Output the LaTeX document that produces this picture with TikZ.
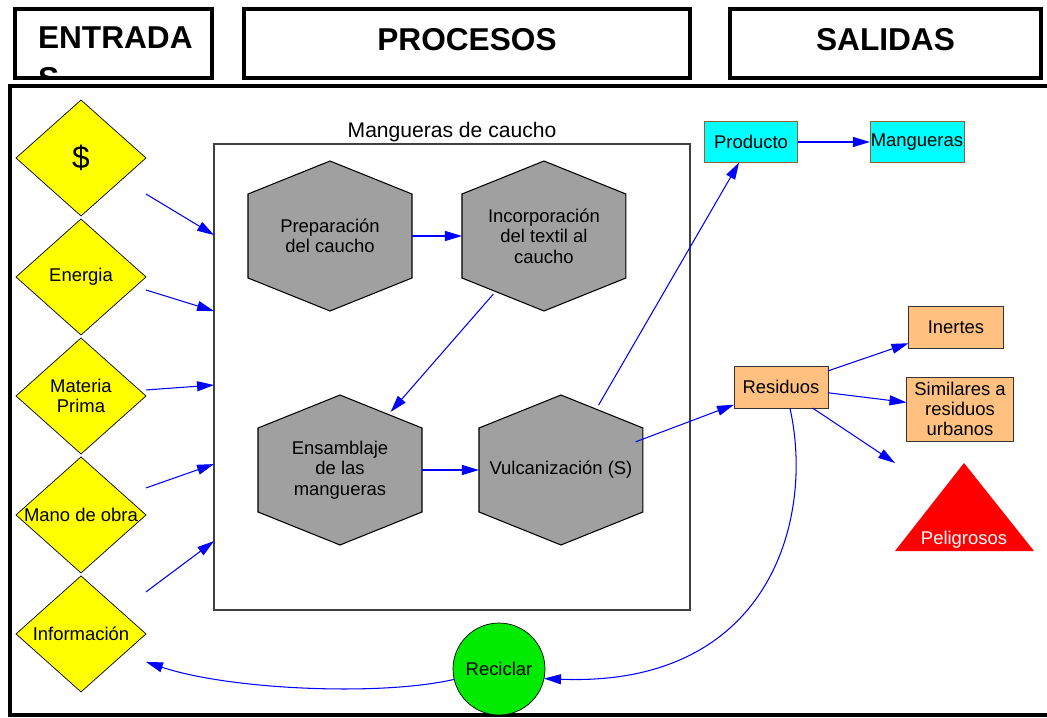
\documentclass[tikz,border=0pt]{standalone}
\usepackage{fontspec}
\setmainfont{Liberation Sans}
\usetikzlibrary{arrows.meta,shapes.geometric,calc,backgrounds}
\definecolor{amarillo}{RGB}{255,255,0}
\definecolor{gris}{RGB}{160,160,160}
\definecolor{celeste}{RGB}{0,255,255}
\definecolor{durazno}{RGB}{255,192,128}
\definecolor{verde}{RGB}{0,235,0}
\definecolor{cafe}{RGB}{150,95,45}
\definecolor{azul}{RGB}{0,0,255}

\begin{document}
\begin{tikzpicture}[x=0.02cm, y=-0.02cm, >={Triangle[length=0.34cm,width=0.2cm]}, node distance=2.38cm,
    every node/.style={font=\fontsize{10.5}{11.6}\selectfont, outer sep=0pt},
    cabecera/.style={draw, line width=0.08cm, minimum height=1.38cm, inner sep=0pt, text depth=0.16cm, font=\fontsize{18}{20.4}\selectfont\bfseries},
    rombo/.style={diamond, draw, fill=amarillo, shape aspect=1.12, inner sep=0pt, minimum width=2.6cm, minimum height=2.32cm, align=center},
    hexagono/.style={minimum width=3.28cm, minimum height=3cm, align=center},
    hexfondo/.style={fill=gris, draw=black, line width=0.6pt},
    salida/.style={draw=black!80, fill=durazno, minimum height=0.84cm, inner xsep=1pt, inner ysep=1pt, align=center},
    producto/.style={draw=cafe, fill=celeste, minimum width=1.86cm, minimum height=0.82cm, inner xsep=0.5pt},
    flecha/.style={->, color=azul, line width=0.6pt}]
    \useasboundingbox (0,0) rectangle (1047,717);
    \draw[line width=0.08cm] (10,85.5) rectangle (1070,715);

    \node[cabecera, minimum width=3.94cm] (ent) at (113.5,43.5) {};
    \begin{scope}
        \clip (ent.north west) rectangle (ent.south east);
        \node[anchor=north west, inner sep=0pt, align=left, font=\fontsize{18}{20.4}\selectfont\bfseries] (enttxt) at (38,27) {ENTRADA\\[3pt]S};
    \end{scope}
    \node[cabecera, minimum width=8.92cm] (pro) at (467,43.5) {PROCESOS};
    \node[cabecera, minimum width=6.22cm] (sal) at (885.5,43.5) {SALIDAS};

    \node[rombo, font=\fontsize{18}{20}\selectfont] (dinero) at (81,158) {\$};
    \node[rombo] (energia) [below of=dinero] {Energia};
    \node[rombo] (materia) [below of=energia] {Materia\\Prima};
    \node[rombo] (mano) [below of=materia] {Mano de obra};
    \node[rombo] (info) [below of=mano] {Información};

    \node[draw=black!75, line width=0.8pt, minimum width=9.52cm, minimum height=9.32cm,
          label={[font=\fontsize{12}{14}\selectfont, inner sep=1pt]above:Mangueras de caucho}] (proc) at (452,377) {};

    \node[hexagono] (prep) at (330,236) {Preparación\\del caucho};
    \node[hexagono, node distance=4.28cm] (inc) [right of=prep] {Incorporación\\del textil al\\caucho};
    \node[hexagono] (ens) at (340,470) {Ensamblaje\\de las\\mangueras};
    \node[hexagono, node distance=4.42cm] (vulc) [right of=ens] {Vulcanización (S)};
    \begin{pgfonlayer}{background}
        \foreach \h in {prep,inc,ens,vulc}
            \filldraw[hexfondo] (\h.north) -- ($(\h.north east)+(0,33)$) -- ($(\h.south east)+(0,-33)$)
                -- (\h.south) -- ($(\h.south west)+(0,-33)$) -- ($(\h.north west)+(0,33)$) -- cycle;
    \end{pgfonlayer}

    \node[producto] (prod) at (751,142) {Producto};
    \node[producto, node distance=3.32cm] (mang) [right of=prod] {Mangueras};
    \node[salida, minimum width=1.88cm] (res) at (781,387) {Residuos};
    \node[salida, minimum width=1.9cm] (inert) at (956,327) {Inertes};
    \node[salida, minimum width=2.14cm, minimum height=1.28cm] (simil) at (960,409) {Similares a\\residuos\\urbanos};
    \fill[red] (895,551) -- (964,463) -- (1034,551) -- cycle;
    \node[text=white] (peli) at (964,540) {Peligrosos};
    \coordinate (pelnw) at (895,463);
    \node[circle, draw, fill=verde, minimum size=1.84cm, inner sep=0pt] (rec) at (499,669) {Reciclar};

    \foreach \r/\a/\b in {dinero/36/91, energia/13/167, materia/-6/241, mano/-27/320, info/-42/397}
        \draw[flecha] ($(\r.east)+(0,\a)$) -- ($(proc.north west)+(0,\b)$);

    \path[flecha]
        (prep) edge (inc)
        (inc.center) edge[shorten <=1.54cm, shorten >=1.54cm] (ens.center)
        (ens) edge (vulc)
        (vulc.center) edge[shorten <=1.5cm] (prod)
            edge[shorten <=1.6cm] (res)
        (prod) edge (mang)
        (res) edge (inert)
            edge (simil)
            edge (pelnw)
        ;
    \draw[flecha] (res.-67) .. controls +(25,111) and +(226,9) .. (rec.-12);
    \draw[flecha] (rec.193) .. controls +(-73,17) and +(84,28) .. ($(info.east)+(0,28)$);
\end{tikzpicture}
\end{document}
